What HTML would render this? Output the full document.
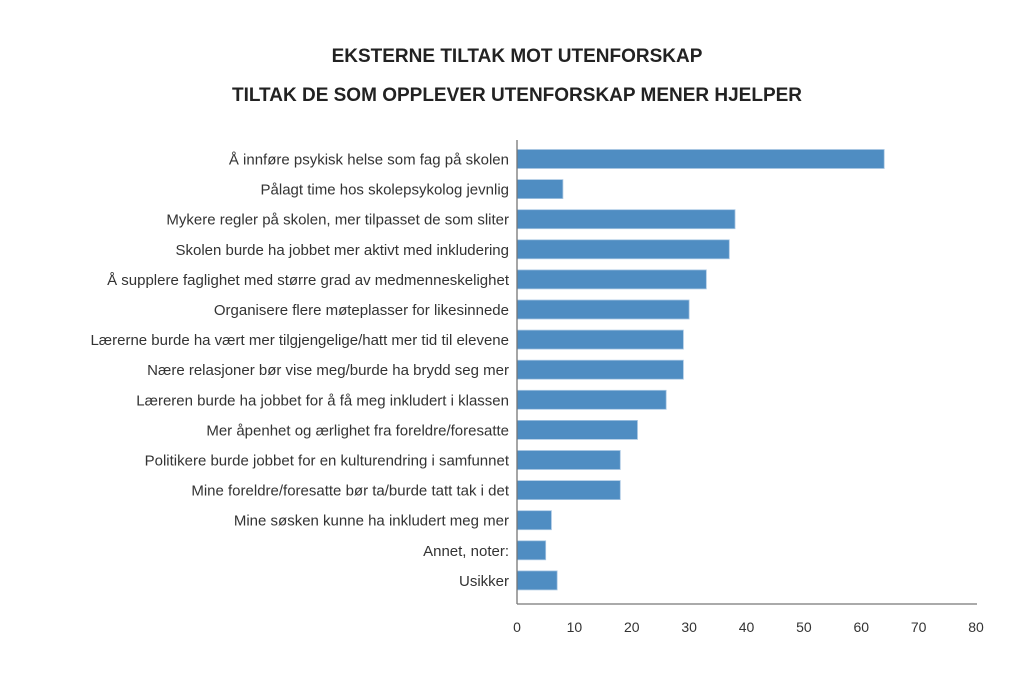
<!DOCTYPE html>
<html><head><meta charset="utf-8"><style>
body{margin:0;background:#fff;width:1024px;height:683px;overflow:hidden}
svg text{font-family:"Liberation Sans",sans-serif}
</style></head><body>
<svg width="1024" height="683">
<text x="517" y="62" text-anchor="middle" font-size="19" font-weight="bold" fill="#222">EKSTERNE TILTAK MOT UTENFORSKAP</text>
<text x="517" y="101" text-anchor="middle" font-size="19" font-weight="bold" fill="#222">TILTAK DE SOM OPPLEVER UTENFORSKAP MENER HJELPER</text>
<g id="bars"></g>
<line x1="517" y1="140" x2="517" y2="604" stroke="#777" stroke-width="1.3"/>
<line x1="517" y1="604" x2="977" y2="604" stroke="#777" stroke-width="1.3"/>
<g id="ticks"></g>
</svg>
<script>
const categories=["Å innføre psykisk helse som fag på skolen","Pålagt time hos skolepsykolog jevnlig","Mykere regler på skolen, mer tilpasset de som sliter","Skolen burde ha jobbet mer aktivt med inkludering","Å supplere faglighet med større grad av medmenneskelighet","Organisere flere møteplasser for likesinnede","Lærerne burde ha vært mer tilgjengelige/hatt mer tid til elevene","Nære relasjoner bør vise meg/burde ha brydd seg mer","Læreren burde ha jobbet for å få meg inkludert i klassen","Mer åpenhet og ærlighet fra foreldre/foresatte","Politikere burde jobbet for en kulturendring i samfunnet","Mine foreldre/foresatte bør ta/burde tatt tak i det","Mine søsken kunne ha inkludert meg mer","Annet, noter:","Usikker"];
const values=[64,8,38,37,33,30,29,29,26,21,18,18,6,5,7];
const ticks=[0,10,20,30,40,50,60,70,80];
const NS="http://www.w3.org/2000/svg";
const x=v=>517+v*(459/80);
const y=i=>159+i*30.1;
const gb=document.getElementById('bars'),gt=document.getElementById('ticks');
categories.forEach((c,i)=>{
 const r=document.createElementNS(NS,'rect');
 r.setAttribute('x',x(0));r.setAttribute('y',y(i)-9.5);
 r.setAttribute('width',x(values[i])-x(0));r.setAttribute('height',19);
 r.setAttribute('fill','#4f8dc2');r.setAttribute('stroke','#a9c7e3');r.setAttribute('stroke-width','0.8');
 
 
 gb.appendChild(r);
 const t=document.createElementNS(NS,'text');
 t.setAttribute('x',509);t.setAttribute('y',y(i)+5.5);
 t.setAttribute('text-anchor','end');t.setAttribute('font-size','15');t.setAttribute('fill','#333');
 t.textContent=c;
 
 
 gb.appendChild(t);
});
ticks.forEach(v=>{
 const t=document.createElementNS(NS,'text');
 t.setAttribute('x',x(v));t.setAttribute('y',632);
 t.setAttribute('text-anchor','middle');t.setAttribute('font-size','14');t.setAttribute('fill','#333');
 t.textContent=v;
 
 
 gt.appendChild(t);
});
</script>
</body></html>
